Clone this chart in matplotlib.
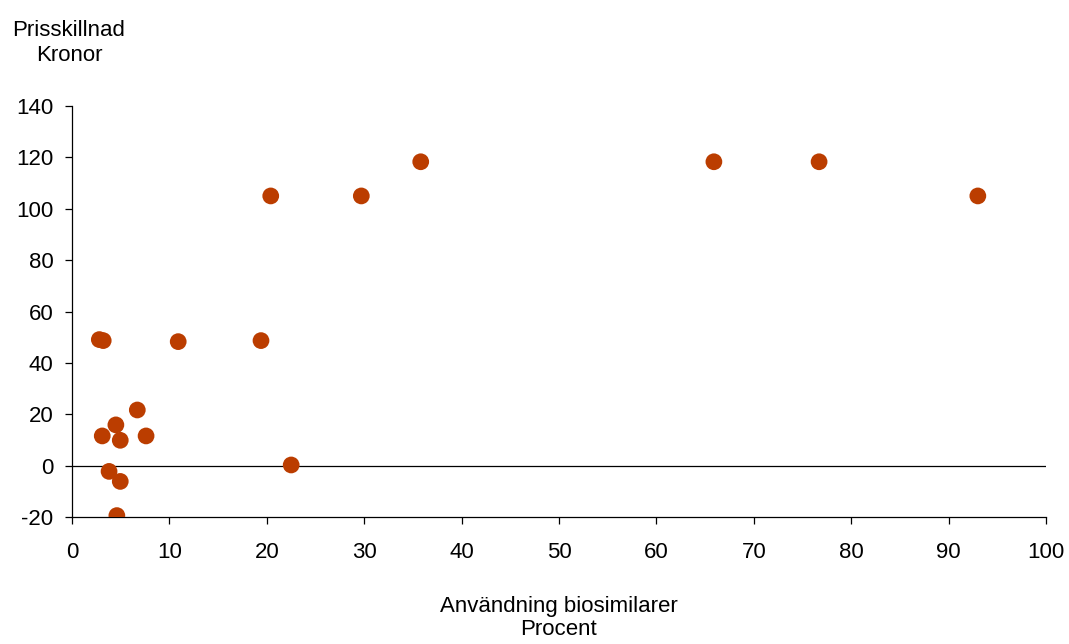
import matplotlib.pyplot as plt

# Data
anvandning = [2.8, 3.2, 10.9, 19.4, 20.4, 29.7, 35.8, 65.9, 76.7, 93.0,
              6.7, 4.5, 3.1, 4.95, 7.6, 3.8, 4.95, 4.6, 22.5]
prisskillnad = [49.1, 48.7, 48.3, 48.7, 105.0, 105.0, 118.3, 118.3, 118.3, 105.0,
                21.7, 15.9, 11.6, 9.9, 11.6, -2.2, -6.1, -19.4, 0.3]

xticks = list(range(0, 101, 10))
yticks = list(range(-20, 141, 20))

plt.rcParams['font.family'] = ['Liberation Sans', 'DejaVu Sans']
plt.rcParams['axes.unicode_minus'] = False

fig = plt.figure(figsize=(10.69, 6.44), dpi=100)
ax = fig.add_axes([0.0674, 0.197, 0.9111, 0.6384])

ax.scatter(anvandning, prisskillnad, s=145, color='#BB3D00', edgecolors='none', zorder=3)
ax.axhline(0, color='black', linewidth=0.9, zorder=2)

ax.set_xlim(0, 100)
ax.set_ylim(-20, 140)
ax.set_xticks(xticks)
ax.set_yticks(yticks)
ax.tick_params(axis='both', labelsize=16, direction='out', length=5, width=0.9, colors='black')
ax.tick_params(axis='x', pad=13)
ax.tick_params(axis='y', pad=8.5)

for s in ['top', 'right']:
    ax.spines[s].set_visible(False)
for s in ['left', 'bottom']:
    ax.spines[s].set_linewidth(0.9)

fig.text(69 / 1069, 1 - 20 / 644, "Prisskillnad\nKronor", ha='center', va='top',
         fontsize=16, linespacing=1.25)
fig.text(559 / 1069, 1 - 596 / 644, "Användning biosimilarer\nProcent", ha='center', va='top',
         fontsize=16, linespacing=1.15)

fig.savefig("out.png", dpi=100)
